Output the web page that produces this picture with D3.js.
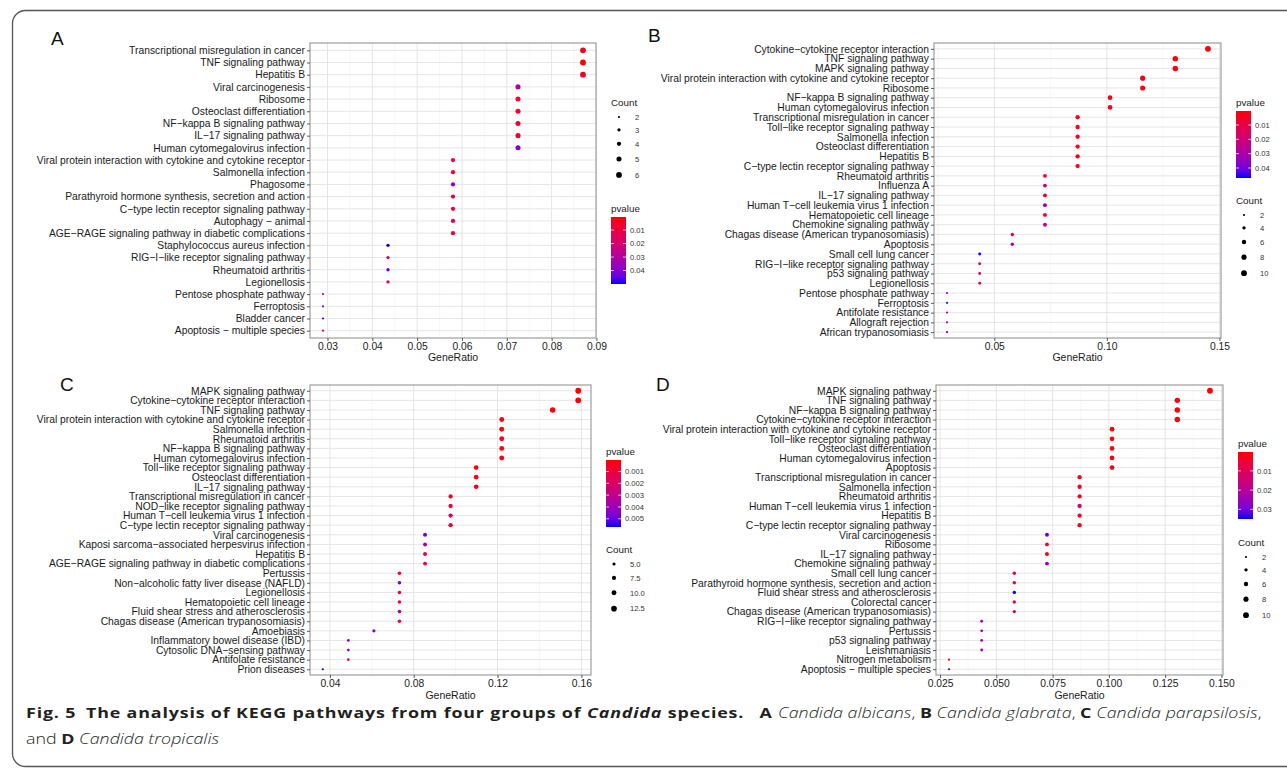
<!DOCTYPE html>
<html>
<head>
<meta charset="utf-8">
<script src="https://cdn.jsdelivr.net/npm/d3@7"></script>
<style>
body { margin: 0; background: #fff; }
svg { display: block; font-family: "Liberation Sans", Arial, sans-serif; }
</style>
</head>
<body>
<script>
// ---- data: panel A (Candida albicans) ----
let termsA = ["Transcriptional misregulation in cancer", "TNF signaling pathway", "Hepatitis B",
  "Viral carcinogenesis", "Ribosome", "Osteoclast differentiation", "NF\u2212kappa B signaling pathway",
  "IL\u221217 signaling pathway", "Human cytomegalovirus infection",
  "Viral protein interaction with cytokine and cytokine receptor", "Salmonella infection", "Phagosome",
  "Parathyroid hormone synthesis, secretion and action", "C\u2212type lectin receptor signaling pathway",
  "Autophagy \u2212 animal", "AGE\u2212RAGE signaling pathway in diabetic complications",
  "Staphylococcus aureus infection", "RIG\u2212I\u2212like receptor signaling pathway", "Rheumatoid arthritis",
  "Legionellosis", "Pentose phosphate pathway", "Ferroptosis", "Bladder cancer", "Apoptosis \u2212 multiple species"];
let ratioA = [0.087, 0.087, 0.087, 0.0725, 0.0725, 0.0725, 0.0725, 0.0725, 0.0725, 0.058, 0.058, 0.058,
  0.058, 0.058, 0.058, 0.058, 0.0435, 0.0435, 0.0435, 0.0435, 0.029, 0.029, 0.029, 0.029];
let countA = [6, 6, 6, 5, 5, 5, 5, 5, 5, 4, 4, 4, 4, 4, 4, 4, 3, 3, 3, 3, 2, 2, 2, 2];
let pvalA = [0.004, 0.0003, 0.005, 0.03, 0.009, 0.005, 0.006, 0.005, 0.04, 0.009, 0.007, 0.037,
  0.01, 0.008, 0.011, 0.008, 0.05, 0.015, 0.045, 0.011, 0.022, 0.042, 0.047, 0.025];

// ---- panel B (Candida glabrata) ----
let termsB = ["Cytokine\u2212cytokine receptor interaction", "TNF signaling pathway", "MAPK signaling pathway",
  "Viral protein interaction with cytokine and cytokine receptor", "Ribosome", "NF\u2212kappa B signaling pathway",
  "Human cytomegalovirus infection", "Transcriptional misregulation in cancer",
  "Toll\u2212like receptor signaling pathway", "Salmonella infection", "Osteoclast differentiation", "Hepatitis B",
  "C\u2212type lectin receptor signaling pathway", "Rheumatoid arthritis", "Influenza A", "IL\u221217 signaling pathway",
  "Human T\u2212cell leukemia virus 1 infection", "Hematopoietic cell lineage", "Chemokine signaling pathway",
  "Chagas disease (American trypanosomiasis)", "Apoptosis", "Small cell lung cancer",
  "RIG\u2212I\u2212like receptor signaling pathway", "p53 signaling pathway", "Legionellosis",
  "Pentose phosphate pathway", "Ferroptosis", "Antifolate resistance", "Allograft rejection", "African trypanosomiasis"];
let ratioB = [0.1449, 0.1304, 0.1304, 0.1159, 0.1159, 0.1014, 0.1014, 0.087, 0.087, 0.087, 0.087, 0.087,
  0.087, 0.0725, 0.0725, 0.0725, 0.0725, 0.0725, 0.0725, 0.058, 0.058, 0.0435, 0.0435, 0.0435, 0.0435,
  0.029, 0.029, 0.029, 0.029, 0.029];
let countB = [10, 9, 9, 8, 8, 7, 7, 6, 6, 6, 6, 6, 6, 5, 5, 5, 5, 5, 5, 4, 4, 3, 3, 3, 3, 2, 2, 2, 2, 2];
let pvalB = [0.0002, 0.001, 0.001, 0.002, 0.002, 0.002, 0.003, 0.003, 0.003, 0.003, 0.003, 0.003, 0.003,
  0.004, 0.016, 0.005, 0.036, 0.005, 0.021, 0.011, 0.026, 0.047, 0.017, 0.017, 0.012,
  0.022, 0.045, 0.023, 0.033, 0.035];

// ---- panel C (Candida parapsilosis) ----
let termsC = ["MAPK signaling pathway", "Cytokine\u2212cytokine receptor interaction", "TNF signaling pathway",
  "Viral protein interaction with cytokine and cytokine receptor", "Salmonella infection", "Rheumatoid arthritis",
  "NF\u2212kappa B signaling pathway", "Human cytomegalovirus infection", "Toll\u2212like receptor signaling pathway",
  "Osteoclast differentiation", "IL\u221217 signaling pathway", "Transcriptional misregulation in cancer",
  "NOD\u2212like receptor signaling pathway", "Human T\u2212cell leukemia virus 1 infection",
  "C\u2212type lectin receptor signaling pathway", "Viral carcinogenesis",
  "Kaposi sarcoma\u2212associated herpesvirus infection", "Hepatitis B",
  "AGE\u2212RAGE signaling pathway in diabetic complications", "Pertussis",
  "Non\u2212alcoholic fatty liver disease (NAFLD)", "Legionellosis", "Hematopoietic cell lineage",
  "Fluid shear stress and atherosclerosis", "Chagas disease (American trypanosomiasis)", "Amoebiasis",
  "Inflammatory bowel disease (IBD)", "Cytosolic DNA\u2212sensing pathway", "Antifolate resistance", "Prion diseases"];
let ratioC = [0.1585, 0.1585, 0.1463, 0.122, 0.122, 0.122, 0.122, 0.122, 0.1098, 0.1098, 0.1098,
  0.0976, 0.0976, 0.0976, 0.0976, 0.0854, 0.0854, 0.0854, 0.0854, 0.0732, 0.0732, 0.0732, 0.0732, 0.0732,
  0.0732, 0.061, 0.0488, 0.0488, 0.0488, 0.0366];
let countC = [13, 13, 12, 10, 10, 10, 10, 10, 9, 9, 9, 8, 8, 8, 8, 7, 7, 7, 7, 6, 6, 6, 6, 6, 6, 5, 4, 4, 4, 3];
let pvalC = [0.00002, 0.0001, 0.0002, 0.0002, 0.0002, 0.0003, 0.0003, 0.0004, 0.0003, 0.0003, 0.0004,
  0.0006, 0.0008, 0.0022, 0.0009, 0.0048, 0.0037, 0.0014, 0.0012, 0.0007, 0.0046, 0.0009, 0.0011,
  0.0036, 0.001, 0.0044, 0.0045, 0.0043, 0.001, 0.0057];

// ---- panel D (Candida tropicalis) ----
let termsD = ["MAPK signaling pathway", "TNF signaling pathway", "NF\u2212kappa B signaling pathway",
  "Cytokine\u2212cytokine receptor interaction", "Viral protein interaction with cytokine and cytokine receptor",
  "Toll\u2212like receptor signaling pathway", "Osteoclast differentiation", "Human cytomegalovirus infection",
  "Apoptosis", "Transcriptional misregulation in cancer", "Salmonella infection", "Rheumatoid arthritis",
  "Human T\u2212cell leukemia virus 1 infection", "Hepatitis B", "C\u2212type lectin receptor signaling pathway",
  "Viral carcinogenesis", "Ribosome", "IL\u221217 signaling pathway", "Chemokine signaling pathway",
  "Small cell lung cancer", "Parathyroid hormone synthesis, secretion and action",
  "Fluid shear stress and atherosclerosis", "Colorectal cancer", "Chagas disease (American trypanosomiasis)",
  "RIG\u2212I\u2212like receptor signaling pathway", "Pertussis", "p53 signaling pathway", "Leishmaniasis",
  "Nitrogen metabolism", "Apoptosis \u2212 multiple species"];
let ratioD = [0.1449, 0.1304, 0.1304, 0.1304, 0.1014, 0.1014, 0.1014, 0.1014, 0.1014, 0.087, 0.087, 0.087,
  0.087, 0.087, 0.087, 0.0725, 0.0725, 0.0725, 0.0725, 0.058, 0.058, 0.058, 0.058, 0.058,
  0.0435, 0.0435, 0.0435, 0.0435, 0.029, 0.029];
let countD = [10, 9, 9, 9, 7, 7, 7, 7, 7, 6, 6, 6, 6, 6, 6, 5, 5, 5, 5, 4, 4, 4, 4, 4, 3, 3, 3, 3, 2, 2];
let pvalD = [0.0002, 0.001, 0.001, 0.001, 0.001, 0.001, 0.001, 0.002, 0.002, 0.003, 0.003, 0.003, 0.011,
  0.003, 0.003, 0.031, 0.005, 0.002, 0.024, 0.007, 0.007, 0.035, 0.006, 0.007, 0.023, 0.023, 0.023, 0.023,
  0.008, 0.034];

// ---- tick labels ----
let xTicksA = [0.03, 0.04, 0.05, 0.06, 0.07, 0.08, 0.09];
let xTicksB = [0.05, 0.10, 0.15];
let xTicksC = [0.04, 0.08, 0.12, 0.16];
let xTicksD = [0.025, 0.050, 0.075, 0.100, 0.125, 0.150];
let pTicksA = [0.01, 0.02, 0.03, 0.04];
let pTicksB = [0.01, 0.02, 0.03, 0.04];
let pTicksC = [0.001, 0.002, 0.003, 0.004, 0.005];
let pTicksD = [0.01, 0.02, 0.03];
let countBreaksA = [2, 3, 4, 5, 6];
let countBreaksB = [2, 4, 6, 8, 10];
let countBreaksC = [5, 7.5, 10, 12.5];
let countBreaksD = [2, 4, 6, 8, 10];

let svg = d3.select("body").append("svg")
    .attr("width", 1287)
    .attr("height", 770);

let defs = svg.append("defs");
let redBlue = d3.interpolateLab("#ff0000", "#0000ff");

// frame round the figure
svg.append("rect")
    .attr("x", 12.5).attr("y", 10.5)
    .attr("width", 1300).attr("height", 756)
    .attr("rx", 13)
    .attr("fill", "none")
    .attr("stroke", "#555")
    .attr("stroke-width", 1.3);

function expand(ext) {
    let d = ext[1] - ext[0];
    return [ext[0] - 0.05 * d, ext[1] + 0.05 * d];
}

function drawPanel(p) {
    let g = svg.append("g");
    let x = d3.scaleLinear().domain(expand(d3.extent(p.ratio))).range([p.left, p.right]);
    let y = d3.scalePoint().domain(p.terms).range([p.top, p.bottom]).padding(0.6);
    let r = d3.scaleSqrt().domain(d3.extent(p.count)).range([1.1, 2.9]);
    let col = d3.scaleSequential(redBlue).domain(d3.extent(p.pval));

    // minor grid (half way between major ticks)
    let step = p.ticks[1] - p.ticks[0];
    let minor = [p.ticks[0] - step / 2].concat(p.ticks.map(t => t + step / 2))
        .filter(v => v > x.domain()[0] && v < x.domain()[1]);
    g.selectAll(".minor").data(minor).enter().append("line")
        .attr("x1", d => x(d)).attr("x2", d => x(d))
        .attr("y1", p.top).attr("y2", p.bottom)
        .attr("stroke", "#f3f3f3").attr("stroke-width", 0.7);
    g.selectAll(".major").data(p.ticks).enter().append("line")
        .attr("x1", d => x(d)).attr("x2", d => x(d))
        .attr("y1", p.top).attr("y2", p.bottom)
        .attr("stroke", "#e6e6e6").attr("stroke-width", 1);
    g.selectAll(".hgrid").data(p.terms).enter().append("line")
        .attr("x1", p.left).attr("x2", p.right)
        .attr("y1", d => y(d)).attr("y2", d => y(d))
        .attr("stroke", "#e6e6e6").attr("stroke-width", 1);

    // dots
    g.selectAll("circle.dot").data(p.terms).enter().append("circle")
        .attr("class", "dot")
        .attr("cx", (d, i) => x(p.ratio[i]))
        .attr("cy", d => y(d))
        .attr("r", (d, i) => r(p.count[i]))
        .attr("fill", (d, i) => col(p.pval[i]));

    g.append("rect")
        .attr("x", p.left).attr("y", p.top)
        .attr("width", p.right - p.left).attr("height", p.bottom - p.top)
        .attr("fill", "none").attr("stroke", "#9e9e9e").attr("stroke-width", 1.2);

    // axes
    let xAxis = g.append("g")
        .attr("transform", "translate(0," + p.bottom + ")")
        .call(d3.axisBottom(x).tickValues(p.ticks).tickFormat(d3.format(p.fmt)).tickSize(3).tickPadding(2));
    let yAxis = g.append("g")
        .attr("transform", "translate(" + p.left + ",0)")
        .call(d3.axisLeft(y).tickSize(3).tickPadding(2));
    [xAxis, yAxis].forEach(a => {
        a.select(".domain").remove();
        a.selectAll(".tick line").attr("stroke", "#333").attr("stroke-width", 0.8);
        a.selectAll(".tick text").attr("fill", "#1a1a1a")
            .style("font-size", "10.3px").style("font-family", "Liberation Sans, Arial, sans-serif");
    });

    g.append("text")
        .attr("x", (p.left + p.right) / 2)
        .attr("y", p.bottom + p.titleOff)
        .attr("text-anchor", "middle")
        .style("font-size", "10.5px")
        .attr("fill", "#1a1a1a")
        .text("GeneRatio");

    // panel letter
    g.append("text")
        .attr("x", p.letterX).attr("y", p.letterY)
        .style("font-size", "19px")
        .attr("fill", "#111")
        .text(p.letter);

    // colour legend
    let lx = p.right + 15;
    let gid = "grad" + p.letter;
    let grad = defs.append("linearGradient").attr("id", gid)
        .attr("x1", 0).attr("x2", 0).attr("y1", 0).attr("y2", 1);
    d3.range(0, 1.001, 0.1).forEach(t => {
        grad.append("stop").attr("offset", t).attr("stop-color", redBlue(t));
    });
    let barH = 67, barW = 15;
    g.append("text").attr("x", lx).attr("y", p.pvalY + 3.5)
        .style("font-size", "9.8px").attr("fill", "#1a1a1a").text("pvalue");
    let by = p.pvalY + 9;
    g.append("rect").attr("x", lx).attr("y", by).attr("width", barW).attr("height", barH)
        .attr("fill", "url(#" + gid + ")");
    let pb = d3.scaleLinear().domain(col.domain()).range([by, by + barH]);
    p.pticks.forEach(t => {
        g.append("line").attr("x1", lx).attr("x2", lx + 3).attr("y1", pb(t)).attr("y2", pb(t))
            .attr("stroke", "#fff").attr("stroke-width", 0.7);
        g.append("line").attr("x1", lx + barW - 3).attr("x2", lx + barW).attr("y1", pb(t)).attr("y2", pb(t))
            .attr("stroke", "#fff").attr("stroke-width", 0.7);
        g.append("text").attr("x", lx + barW + 4).attr("y", pb(t) + 2.7)
            .style("font-size", "7.6px").attr("fill", "#333")
            .text(d3.format(p.pfmt)(t));
    });

    // size legend
    g.append("text").attr("x", lx).attr("y", p.countY + 3.5)
        .style("font-size", "9.8px").attr("fill", "#1a1a1a").text("Count");
    let cy = p.countY + 15;
    p.breaks.forEach((b, i) => {
        if (i > 0) cy += 9.5 + 1.2 * (r(p.breaks[i - 1]) + r(b));
        g.append("circle").attr("cx", lx + 8).attr("cy", cy).attr("r", r(b)).attr("fill", "#000");
        g.append("text").attr("x", lx + 24).attr("y", cy + 2.7)
            .style("font-size", "7.6px").attr("fill", "#333")
            .text(d3.format(p.cfmt)(b));
    });
}

drawPanel({letter: "A", letterX: 51, letterY: 45, terms: termsA, ratio: ratioA, count: countA, pval: pvalA,
    left: 310, right: 596, top: 43, bottom: 338, titleOff: 23, ticks: xTicksA, fmt: ".2f",
    pticks: pTicksA, pfmt: ".2f", breaks: countBreaksA, cfmt: "d", countY: 102, pvalY: 208});
drawPanel({letter: "B", letterX: 648, letterY: 42, terms: termsB, ratio: ratioB, count: countB, pval: pvalB,
    left: 934, right: 1221, top: 43, bottom: 338, titleOff: 23, ticks: xTicksB, fmt: ".2f",
    pticks: pTicksB, pfmt: ".2f", breaks: countBreaksB, cfmt: "d", countY: 200, pvalY: 102});
drawPanel({letter: "C", letterX: 60, letterY: 391, terms: termsC, ratio: ratioC, count: countC, pval: pvalC,
    left: 310, right: 591, top: 385, bottom: 675, titleOff: 24, ticks: xTicksC, fmt: ".2f",
    pticks: pTicksC, pfmt: ".3f", breaks: countBreaksC, cfmt: ".1f", countY: 549, pvalY: 451});
drawPanel({letter: "D", letterX: 656, letterY: 391, terms: termsD, ratio: ratioD, count: countD, pval: pvalD,
    left: 936, right: 1223, top: 385, bottom: 675, titleOff: 24, ticks: xTicksD, fmt: ".3f",
    pticks: pTicksD, pfmt: ".2f", breaks: countBreaksD, cfmt: "d", countY: 542, pvalY: 443});

// caption
let cap = svg.append("g").attr("transform", "translate(26,0)")
    .style("font-family", "'Open Sans', 'Noto Sans', sans-serif")
    .attr("fill", "#231f20");
let line1 = cap.append("text").attr("x", 0).attr("y", 718.5).style("font-size", "15px");
let bold = s => line1.append("tspan").attr("font-weight", "bold").style("letter-spacing", "0.7px").text(s);
let ital = s => line1.append("tspan").attr("font-style", "italic").attr("font-weight", 300).text(s);
bold("Fig. 5\u2002The analysis of KEGG pathways from four groups of ");
line1.append("tspan").attr("font-weight", "bold").attr("font-style", "italic").style("letter-spacing", "0.7px").text("Candida");
bold(" species.\u2002 A ");
ital("Candida albicans");
line1.append("tspan").attr("font-weight", 300).text(", ");
line1.append("tspan").attr("font-weight", "bold").text("B ");
ital("Candida glabrata");
line1.append("tspan").attr("font-weight", 300).text(", ");
line1.append("tspan").attr("font-weight", "bold").text("C ");
ital("Candida parapsilosis");
line1.append("tspan").attr("font-weight", 300).text(",");
let line2 = cap.append("text").attr("x", 0).attr("y", 744).style("font-size", "15px");
line2.append("tspan").attr("font-weight", 300).text("and ");
line2.append("tspan").attr("font-weight", "bold").text("D ");
line2.append("tspan").attr("font-style", "italic").attr("font-weight", 300).text("Candida tropicalis");
let sx = 1236 / line1.node().getComputedTextLength();
cap.attr("transform", "translate(26,0) scale(" + sx + ",1)");
</script>
</body>
</html>
